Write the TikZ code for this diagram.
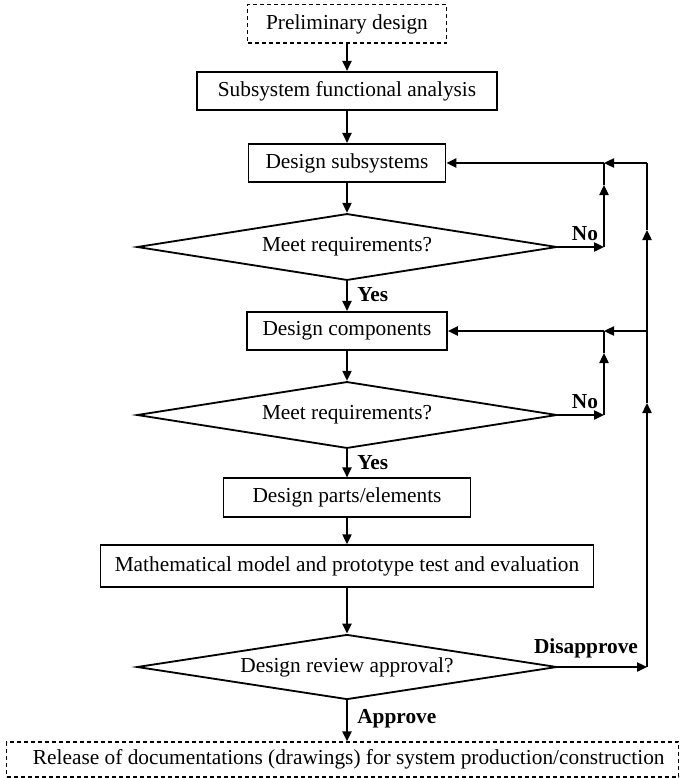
\documentclass[tikz,border=0pt]{standalone}
\usepackage{fontspec}
\setmainfont{Liberation Serif}
\usetikzlibrary{arrows.meta,shapes.geometric}

\tikzset{
  base/.style={font=\fontsize{12.8}{15}\selectfont, inner sep=0pt, line width=1.1pt},
  procbox/.style={base, draw, rectangle, minimum height=23pt},
  dashbox/.style={procbox, dash pattern=on 2.4pt off 1.8pt, line width=0.8pt},
  decision/.style={base, draw, diamond, aspect=6.27, minimum width=252pt, minimum height=40pt},
  tag/.style={font=\fontsize{12.8}{15}\selectfont\bfseries, inner sep=0pt},
  link/.style={line width=1.1pt},
  arr/.style={link, -{Triangle[length=6pt,width=5.5pt]}}
}

\begin{document}
\begin{tikzpicture}[x=0.6pt,y=-0.6pt]
\useasboundingbox (0,0) rectangle (680,778);

% process steps
\node[dashbox, minimum width=119.4pt] (pre) at (347,24) {Preliminary design};
\node[procbox, minimum width=180pt] (sub) at (347,91) {Subsystem functional analysis};
\node[procbox, minimum width=118.2pt] (ds) at (347,163) {Design subsystems};
\node[decision] (d1) at (347,247) {Meet requirements?};
\node[procbox, minimum width=120pt] (dc) at (347,331) {Design components};
\node[decision] (d2) at (347,415) {Meet requirements?};
\node[procbox, minimum width=148.2pt] (dp) at (347,497.5) {Design parts/elements};
\node[procbox, minimum width=295.8pt, minimum height=25pt] (mm) at (347,566) {Mathematical model and prototype test and evaluation};
\node[decision, minimum height=39pt] (d3) at (347,667) {Design review approval?};
\node[dashbox, minimum width=403.2pt, minimum height=21pt] (rel) at (342.5,759.5) {\hspace*{7.5pt}Release of documentations (drawings) for system production/construction};

% main flow
\draw[arr] (pre) -- (sub);
\draw[arr] (sub) -- (ds);
\draw[arr] (ds) -- (d1);
\draw[arr] (d1) -- (dc);
\draw[arr] (dc) -- (d2);
\draw[arr] (d2) -- (dp);
\draw[arr] (dp) -- (mm);
\draw[arr] (mm) -- (d3);
\draw[arr] (d3.south) -- (d3.south |- rel.north);

% feedback junctions
\coordinate (n1) at (604,247);
\coordinate (m1) at (604,185);
\coordinate (j1) at (604,163);
\coordinate (n2) at (604,415);
\coordinate (m2) at (604,353);
\coordinate (j2) at (604,331);
\coordinate (o3) at (647,667);
\coordinate (m4) at (647,403);
\coordinate (oc) at (647,331);
\coordinate (m3) at (647,230);
\coordinate (ot) at (647,163);

% "No" loops
\draw[arr] (d1.east) -- (n1);
\draw[arr] (n1) -- (m1);
\draw[link] (m1) -- (j1);
\draw[arr] (d2.east) -- (n2);
\draw[arr] (n2) -- (m2);
\draw[link] (m2) -- (j2);

% "Disapprove" loop
\draw[arr] (d3.east) -- (o3);
\draw[arr] (o3) -- (m4);
\draw[arr] (m4) -- (m3);
\draw[link] (m3) -- (ot);
\draw[arr] (ot) -- (j1);
\draw[arr] (j1) -- (ds.east);
\draw[arr] (oc) -- (j2);
\draw[arr] (j2) -- (dc.east);

% branch labels
\node[tag, anchor=west] (y1) at (357,295) {Yes};
\node[tag, anchor=west] (y2) at (357,463) {Yes};
\node[tag] (no1) at (585,234) {No};
\node[tag] (no2) at (585,402) {No};
\node[tag] (dis) at (586,648) {Disapprove};
\node[tag, anchor=west] (apr) at (357,719) {Approve};
\end{tikzpicture}
\end{document}
